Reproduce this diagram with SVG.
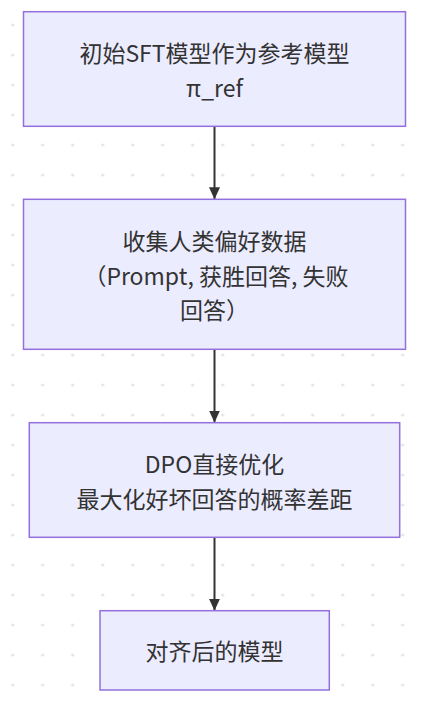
<svg xmlns="http://www.w3.org/2000/svg" width="423" height="704" viewBox="0 0 423 704">
<style>
.node rect{fill:#ECECFF;stroke:#9370DB;stroke-width:1.5}
.node text{font-family:"Noto Sans CJK SC","Noto Sans",sans-serif;font-size:23px;fill:#333;text-anchor:middle;dominant-baseline:central}
.edge{stroke:#333;stroke-width:2;fill:none}
</style>
<defs>
<pattern id="dots" x="-2.33" y="10" width="30" height="30" patternUnits="userSpaceOnUse">
<circle cx="15" cy="15" r="1.6" fill="#e4e4e4"/>
</pattern>
<marker id="arrow" viewBox="0 0 12 11" refX="12" refY="5.5" markerWidth="12" markerHeight="11" markerUnits="userSpaceOnUse" orient="auto">
<path d="M0,0 L12,5.5 L0,11 z" fill="#333"/>
</marker>
</defs>
<rect width="423" height="704" fill="#fff"/>
<rect width="423" height="704" fill="url(#dots)"/>
<g id="connectors">
<line class="edge" x1="214.5" y1="126.3" x2="214.5" y2="199.3" marker-end="url(#arrow)"/>
<line class="edge" x1="214.5" y1="349.3" x2="214.5" y2="422.5" marker-end="url(#arrow)"/>
<line class="edge" x1="214.5" y1="537.3" x2="214.5" y2="610.7" marker-end="url(#arrow)"/>
</g>
<g id="node1" class="node">
<rect x="23.5" y="11.7" width="382" height="114.6"/>
<text x="214.5" y="51.5">初始SFT模型作为参考模型</text>
<text x="214.5" y="86.5">π_ref</text>
</g>
<g id="node2" class="node">
<rect x="23.5" y="199.3" width="382" height="150"/>
<text x="214.5" y="239.5">收集人类偏好数据</text>
<text x="216" y="274.5">（Prompt, 获胜回答, 失败</text>
<text x="214.5" y="309">回答）</text>
</g>
<g id="node3" class="node">
<rect x="29.3" y="422.7" width="370.4" height="114.6"/>
<text x="214.5" y="462.5">DPO直接优化</text>
<text x="214.5" y="497.5">最大化好坏回答的概率差距</text>
</g>
<g id="node4" class="node">
<rect x="100" y="610.7" width="229.3" height="79.3"/>
<text x="214.5" y="650.3">对齐后的模型</text>
</g>
</svg>
